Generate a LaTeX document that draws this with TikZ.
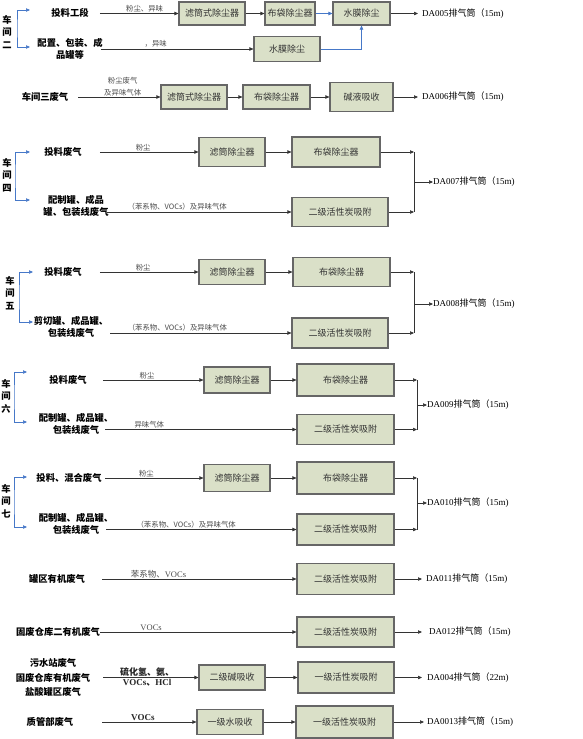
\documentclass[tikz,border=0pt]{standalone}
\usepackage{fontspec}
\setmainfont{Noto Sans CJK SC}
\newfontfamily\lat{Liberation Serif}
\usetikzlibrary{arrows.meta}
\definecolor{boxfill}{RGB}{218,224,200}
\definecolor{linkblue}{RGB}{70,120,200}

\begin{document}
\begin{tikzpicture}[x=1pt, y=-1pt,
    unit/.style={draw=black!60, line width=1.1pt, fill=boxfill, inner sep=0pt,
      font=\fontsize{9}{10}\selectfont, text=black!80},
    src/.style={font=\bfseries\fontsize{9.3}{12}\selectfont, align=center, inner sep=0pt},
    shop/.style={font=\bfseries\fontsize{9.3}{12.5}\selectfont, align=center, inner sep=0pt},
    lbl/.style={font=\fontsize{7.4}{12}\selectfont, text=black!70, inner sep=1pt, align=center},
    bold lbl/.style={font=\bfseries\fontsize{9}{11}\selectfont, text=black!85, inner sep=1pt},
    outlet/.style={font=\fontsize{9}{11}\selectfont, anchor=west, inner sep=0pt},
    arr/.style={-{Triangle[length=4pt,width=3.4pt]}, draw=black!80, line width=0.6pt},
    blu/.style={-{Triangle[length=4pt,width=3.4pt]}, draw=linkblue, line width=0.6pt},
    brk/.style={{Triangle[length=4pt,width=3.4pt]}-{Triangle[length=4pt,width=3.4pt]},
      draw=linkblue, line width=0.6pt}]
    \useasboundingbox (0,0) rectangle (583,739);

    % workshop 2
    \node[shop] (v2) at (7,32) {车\\间\\二};
    \coordinate (k2) at (17,28);
    \coordinate (k2t) at (30,10);
    \coordinate (k2b) at (30,47);
    \node[src] (s2a) at (70,13) {投料工段};
    \node[src] (s2b) at (70,49) {配置、包装、成\\品罐等};
    \node[unit, minimum width=66, minimum height=23] (f2) at (212,13.5) {滤筒式除尘器};
    \node[unit, minimum width=50, minimum height=23] (b2) at (290,13.5) {布袋除尘器};
    \node[unit, minimum width=57, minimum height=23] (w2a) at (361.5,13.5) {水膜除尘};
    \node[unit, minimum width=66, minimum height=25] (w2b) at (287,49) {水膜除尘};
    \node[outlet] (d2) at (422,13.5) {{\lat DA005}排气筒（{\lat 15m)}};

    \draw[brk] (k2t) -| (k2) |- (k2b);
    \draw[arr] ([xshift=11]s2a.east |- f2) -- node[lbl, above, pos=.57] {粉尘、异味} (f2);
    \draw[arr] ([xshift=-2]s2b.east |- w2b) -- node[lbl, above, pos=.36] {，异味} (w2b);
    \draw[arr] (f2) -- (b2);
    \draw[blu] (b2) -- (w2a);
    \draw[arr, shorten >=4] (w2a) -- (d2);
    \draw[blu] (w2b) -| (w2a);

    % workshop 3
    \node[src] (s3) at (45,97) {车间三废气};
    \node[unit, minimum width=66, minimum height=24] (f3) at (194,97) {滤筒式除尘器};
    \node[unit, minimum width=67, minimum height=24] (b3) at (276.5,97) {布袋除尘器};
    \node[unit, minimum width=63, minimum height=29] (j3) at (361.5,97) {碱液吸收};
    \node[outlet] (d3) at (422,97) {{\lat DA006}排气筒（{\lat 15m)}};

    \draw[arr] ([xshift=10]s3.east) -- node[lbl, above, pos=.54] {粉尘废气\\及异味气体} (f3);
    \draw[arr] (f3) -- (b3);
    \draw[arr] (b3) -- (j3);
    \draw[arr, shorten >=4] (j3) -- (d3);

    % workshop 4
    \node[shop] (v4) at (7,175) {车\\间\\四};
    \coordinate (k4) at (15,176);
    \coordinate (k4t) at (30,152);
    \coordinate (k4b) at (30,200);
    \node[src] (s4a) at (63,152) {投料废气};
    \node[src] (s4b) at (76,206) {配制罐、成品\\罐、包装线废气};
    \node[unit, minimum width=66, minimum height=29] (f4) at (232,152) {滤筒除尘器};
    \node[unit, minimum width=88, minimum height=30] (b4) at (336,152) {布袋除尘器};
    \node[unit, minimum width=96, minimum height=29] (a4) at (340,212) {二级活性炭吸附};
    \coordinate (m4) at (414,182);
    \node[outlet] (d4) at (433,182) {{\lat DA007}排气筒（{\lat 15m)}};

    \draw[brk] (k4t) -| (k4) |- (k4b);
    \draw[arr] ([xshift=18]s4a.east) -- node[lbl, above, pos=.44] {粉尘} (f4);
    \draw[arr] ([xshift=-1.5]s4b.east |- a4) -- node[lbl, above, pos=.38] {（苯系物、VOCs）及异味气体} (a4);
    \draw[arr] (f4) -- (b4);
    \draw[arr] (b4) -- (b4 -| m4);
    \draw[arr] (a4) -- (a4 -| m4);
    \draw[draw=black!80, line width=0.6pt] (b4 -| m4) -- (a4 -| m4);
    \draw[arr] (m4) -- (d4);

    % workshop 5
    \node[shop] (v5) at (10,293) {车\\间\\五};
    \coordinate (k5) at (19,297);
    \coordinate (k5t) at (33,272);
    \coordinate (k5b) at (33,322);
    \node[src] (s5a) at (63,272) {投料废气};
    \node[src] (s5b) at (71,327) {剪切罐、成品罐、\\包装线废气};
    \node[unit, minimum width=66, minimum height=25] (f5) at (232,272) {滤筒除尘器};
    \node[unit, minimum width=97, minimum height=29] (b5) at (341.5,272) {布袋除尘器};
    \node[unit, minimum width=96, minimum height=30] (a5) at (340,333) {二级活性炭吸附};
    \coordinate (m5) at (414,304);
    \node[outlet] (d5) at (433,304) {{\lat DA008}排气筒（{\lat 15m)}};

    \draw[brk] (k5t) -| (k5) |- (k5b);
    \draw[arr] ([xshift=18]s5a.east) -- node[lbl, above, pos=.44] {粉尘} (f5);
    \draw[arr] ([xshift=2]s5b.east |- a5) -- node[lbl, above, pos=.37] {（苯系物、VOCs）及异味气体} (a5);
    \draw[arr] (f5) -- (b5);
    \draw[arr] (b5) -- (b5 -| m5);
    \draw[arr] (a5) -- (a5 -| m5);
    \draw[draw=black!80, line width=0.6pt] (b5 -| m5) -- (a5 -| m5);
    \draw[arr] (m5) -- (d5);

    % workshop 6
    \node[shop] (v6) at (6,396) {车\\间\\六};
    \coordinate (k6) at (14,397);
    \coordinate (k6t) at (27,372);
    \coordinate (k6b) at (27,422);
    \node[src] (s6a) at (68,380) {投料废气};
    \node[src] (s6b) at (76,423.5) {配制罐、成品罐、\\包装线废气};
    \node[unit, minimum width=66, minimum height=26] (f6) at (237,380) {滤筒除尘器};
    \node[unit, minimum width=97, minimum height=32] (b6) at (345.5,380) {布袋除尘器};
    \node[unit, minimum width=97, minimum height=30] (a6) at (345.5,429.5) {二级活性炭吸附};
    \coordinate (m6) at (417,405);
    \node[outlet] (d6) at (427,405) {{\lat DA009}排气筒（{\lat 15m)}};

    \draw[brk] (k6t) -| (k6) |- (k6b);
    \draw[arr] ([xshift=16]s6a.east) -- node[lbl, above, pos=.44] {粉尘} (f6);
    \draw[arr] ([xshift=-8]s6b.east |- a6) -- node[lbl, above, pos=.23] {异味气体} (a6);
    \draw[arr] (f6) -- (b6);
    \draw[arr] (b6) -- (b6 -| m6);
    \draw[arr] (a6) -- (a6 -| m6);
    \draw[draw=black!80, line width=0.6pt] (b6 -| m6) -- (a6 -| m6);
    \draw[arr] (m6) -- (d6);

    % workshop 7
    \node[shop] (v7) at (6,501) {车\\间\\七};
    \coordinate (k7) at (14,502);
    \coordinate (k7t) at (27,477);
    \coordinate (k7b) at (27,527);
    \node[src] (s7a) at (69,478) {投料、混合废气};
    \node[src] (s7b) at (76,523.5) {配制罐、成品罐、\\包装线废气};
    \node[unit, minimum width=66, minimum height=27] (f7) at (237,478) {滤筒除尘器};
    \node[unit, minimum width=97, minimum height=32] (b7) at (345.5,478) {布袋除尘器};
    \node[unit, minimum width=97, minimum height=31] (a7) at (345.5,529.5) {二级活性炭吸附};
    \coordinate (m7) at (417,503);
    \node[outlet] (d7) at (427,503) {{\lat DA010}排气筒（{\lat 15m)}};

    \draw[brk] (k7t) -| (k7) |- (k7b);
    \draw[arr] ([xshift=3.5]s7a.east) -- node[lbl, above, pos=.42] {粉尘} (f7);
    \draw[arr] ([xshift=-7]s7b.east |- a7) -- node[lbl, above, pos=.42] {（苯系物、VOCs）及异味气体} (a7);
    \draw[arr] (f7) -- (b7);
    \draw[arr] (b7) -- (b7 -| m7);
    \draw[arr] (a7) -- (a7 -| m7);
    \draw[draw=black!80, line width=0.6pt] (b7 -| m7) -- (a7 -| m7);
    \draw[arr] (m7) -- (d7);

    % single lines
    \node[src] (s8) at (57,579) {罐区有机废气};
    \node[unit, minimum width=97, minimum height=31] (a8) at (345.5,579) {二级活性炭吸附};
    \node[outlet] (d8) at (426,579) {{\lat DA011}排气筒（{\lat 15m)}};
    \draw[arr] ([xshift=17]s8.east) -- node[lbl, above, pos=.29, font=\fontsize{8.5}{10}\selectfont] {苯系物、{\lat VOCs}} (a8);
    \draw[arr, shorten >=4] (a8) -- (d8);

    \node[src] (s9) at (58,632) {固废仓库二有机废气};
    \node[unit, minimum width=97, minimum height=30] (a9) at (345.5,632) {二级活性炭吸附};
    \node[outlet] (d9) at (429,632) {{\lat DA012}排气筒（{\lat 15m)}};
    \draw[arr] (s9.east) -- node[lbl, above, pos=.26, font=\fontsize{8.5}{10}\selectfont] {{\lat VOCs}} (a9);
    \draw[arr, shorten >=7] (a9) -- (d9);

    \node[src, font=\bfseries\fontsize{9.3}{14.5}\selectfont] (s10) at (53,677.5) {污水站废气\\固废仓库有机废气\\盐酸罐区废气};
    \node[unit, minimum width=66, minimum height=25] (c10) at (232,677.5) {二级碱吸收};
    \node[unit, minimum width=96, minimum height=31] (a10) at (346,677.5) {一级活性炭吸附};
    \node[outlet] (d10) at (427,677.5) {{\lat DA004}排气筒（{\lat 22m)}};
    \draw[arr] ([xshift=13]s10.east) -- node[bold lbl, above, pos=.46] {硫化氢、氨、}
      node[bold lbl, below, pos=.46] {{\lat VOCs}、{\lat HCl}} (c10);
    \draw[arr] (c10) -- (a10);
    \draw[arr, shorten >=5] (a10) -- (d10);

    \node[src] (s11) at (50,722) {质管部废气};
    \node[unit, minimum width=66, minimum height=25] (w11) at (230,722) {一级水吸收};
    \node[unit, minimum width=97, minimum height=32] (a11) at (344.5,722) {一级活性炭吸附};
    \node[outlet] (d11) at (427,722) {{\lat DA0013}排气筒（{\lat 15m)}};
    \draw[arr] ([xshift=29]s11.east) -- node[bold lbl, above, pos=.43] {{\lat VOCs}} (w11);
    \draw[arr] (w11) -- (a11);
    \draw[arr, shorten >=3] (a11) -- (d11);
\end{tikzpicture}
\end{document}
